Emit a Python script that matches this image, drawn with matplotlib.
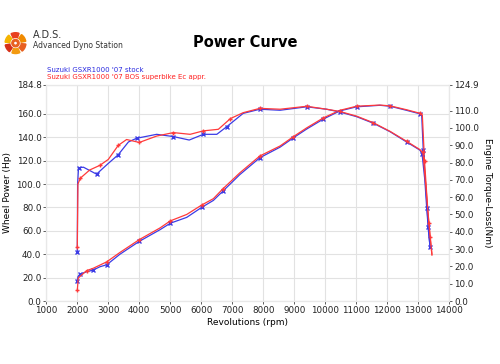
#Dyno chart - Power Curve (ADS)
import numpy as np
import matplotlib.pyplot as plt
from matplotlib.patches import Wedge

#Dados - potencia (Hp, eixo esquerdo)
rpm_pow_stock = [2000, 2020, 2085, 2300, 2515, 2730, 2950, 3375, 4000, 4670, 5000, 5530, 6010, 6390,
                 6700, 7240, 7890, 8540, 8970, 9400, 9935, 10470, 11010, 11760, 12090, 12620,
                 13050, 13110, 13160, 13270, 13320, 13380]
pow_stock = [17, 20.8, 23, 25, 26.5, 29.3, 31, 40, 51, 61, 66.5, 71.5, 80, 86,
             94, 108, 122.5, 131.5, 139.5, 147, 155.5, 162.5, 166, 167.3, 166.5, 163,
             160, 158.5, 129, 86, 63.5, 46]
rpm_pow_bos = [2000, 2030, 2300, 2515, 2950, 3375, 4000, 4670, 5000, 5530, 6010, 6390, 6700, 7240,
               7890, 8540, 8970, 9400, 9935, 10470, 11010, 11760, 12090, 12620, 13050, 13130,
               13200, 13300, 13380, 13440]
pow_bos = [9, 19.6, 26, 28, 33.5, 41.5, 52.5, 62.5, 68.5, 74, 82, 87.5, 96, 109.5,
           124, 132.5, 140.5, 148, 156.5, 163, 166.5, 167.5, 166.8, 163.5, 160.5, 159,
           120, 80, 55, 40]

#Dados - torque (Nm, eixo direito)
rpm_tq_stock = [2000, 2010, 2040, 2200, 2620, 3000, 3320, 3650, 3910, 4560, 5100, 5610, 6065, 6500,
                6820, 7350, 7890, 8540, 9400, 10040, 10470, 11010, 11550, 12090, 12620, 13050,
                13120, 13210, 13270, 13330, 13380]
tq_stock = [28.4, 67.6, 77.0, 77.3, 73.3, 79.5, 84.5, 91.9, 94.0, 96.3, 95.0, 93.0, 96.3, 96.3,
            100.7, 108.4, 110.8, 110.2, 112.2, 110.8, 109.2, 106.5, 102.7, 97.8, 91.9, 87.2,
            85.2, 70, 54, 40, 31]
rpm_tq_bos = [2000, 2020, 2100, 2400, 2730, 3000, 3320, 3590, 4000, 4560, 5100, 5640, 6065, 6550,
              6940, 7350, 7890, 8540, 9400, 10040, 10470, 11010, 11550, 12090, 12620, 13050,
              13150, 13250, 13340, 13440]
tq_bos = [31.1, 67.6, 71.0, 75.7, 78.4, 81.8, 89.9, 93.3, 91.6, 95.3, 97.3, 96.3, 98.3, 99.2,
          105.4, 108.8, 111.3, 110.8, 112.5, 110.8, 109.5, 106.8, 103.0, 98.0, 92.3, 87.5,
          85.8, 65, 45, 26.5]

x_ticks = list(range(1000, 15000, 1000))
y_left_ticks = [0, 20, 40, 60, 80, 100, 120, 140, 160, 184.8]
y_right_ticks = [0, 10, 20, 30, 40, 50, 60, 70, 80, 90, 100, 110, 124.9]

azul = '#3b3be6'
vermelho = '#ff3a3a'

#Grafico
fig = plt.figure(figsize=(5, 3.64), dpi=100)
ax = fig.add_axes([0.0926, 0.173, 0.806, 0.594])
ax2 = ax.twinx()

ax.plot(rpm_pow_stock, pow_stock, color=azul, lw=0.9, marker='x', ms=2.2, markevery=2)
ax2.plot(rpm_tq_stock, tq_stock, color=azul, lw=0.9, marker='x', ms=2.2, markevery=2)
ax.plot(rpm_pow_bos, pow_bos, color=vermelho, lw=0.9, marker='+', ms=2.5, markevery=2)
ax2.plot(rpm_tq_bos, tq_bos, color=vermelho, lw=0.9, marker='+', ms=2.5, markevery=2)

ax.set_xlim(1000, 14000)
ax.set_ylim(0, 184.8)
ax2.set_ylim(0, 124.9)
ax.set_xticks(x_ticks)
ax.set_yticks(y_left_ticks)
ax.set_yticklabels([f"{v:.1f}" for v in y_left_ticks])
ax2.set_yticks(y_right_ticks)
ax2.set_yticklabels([f"{v:.1f}" for v in y_right_ticks])

ax.grid(True, color='#e2e2e2', lw=0.8)
ax.set_axisbelow(True)
for a in (ax, ax2):
    a.tick_params(labelsize=6.3, length=2.5, width=0.6, color='#444444', labelcolor='#222222', pad=1)
    for s in a.spines.values():
        s.set_color('#e8e8e8')
        s.set_linewidth(0.8)

ax.set_xlabel("Revolutions (rpm)", fontsize=6.5, labelpad=2)
ax.set_ylabel("Wheel Power (Hp)", fontsize=6.5, labelpad=3)
ax2.set_ylabel("Engine Torque-Loss(Nm)", fontsize=6.5, rotation=270, labelpad=9)

fig.text(0.49, 0.882, "Power Curve", fontsize=10.5, fontweight='bold', ha='center', va='center')
fig.text(0.066, 0.905, "A.D.S.", fontsize=7, ha='left', va='center', color='#333333')
fig.text(0.066, 0.875, "Advanced Dyno Station", fontsize=5.5, ha='left', va='center', color='#333333')
fig.text(0.094, 0.808, "Suzuki GSXR1000 '07 stock", fontsize=5, color='#2a2ae0', ha='left', va='center')
fig.text(0.094, 0.788, "Suzuki GSXR1000 '07 BOS superbike Ec appr.", fontsize=5, color='#ff2020',
         ha='left', va='center')

#Logo
lax = fig.add_axes([0.008, 0.85, 0.046, 0.063])
cores = ['#f08a00', '#e84020', '#f5b400', '#d63018', '#f39a10', '#e86020']
for i, c in enumerate(cores):
    lax.add_patch(Wedge((0, 0), 1, i * 60 + 10, i * 60 + 55, width=0.45, color=c))
lax.add_patch(Wedge((0, 0), 0.35, 0, 360, width=0.15, color='#e86020'))
lax.set_xlim(-1.1, 1.1)
lax.set_ylim(-1.1, 1.1)
lax.set_aspect('equal')
lax.axis('off')

plt.savefig("out.png", dpi=100)
